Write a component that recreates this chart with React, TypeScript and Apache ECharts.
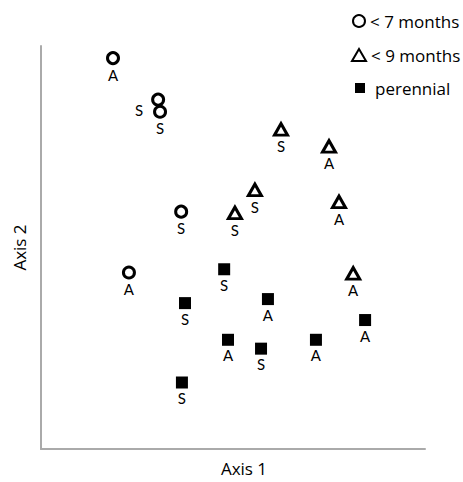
import React, { useEffect, useRef } from "react";
import * as echarts from "echarts";

// Arbitrary ordination units (0–100 on both axes)
const circleX = [18.75, 30.5, 31.0, 36.5, 22.9];
const circleY = [97.0, 86.7, 83.7, 58.9, 43.8];
const circleLabels = ["A", "S", "S", "S", "A"];

const triangleX = [62.5, 75.0, 55.7, 50.5, 77.6, 81.3];
const triangleY = [79.3, 75.1, 64.3, 58.6, 61.3, 43.6];
const triangleLabels = ["S", "A", "S", "S", "A", "A"];

const squareX = [47.7, 37.5, 59.1, 48.7, 57.3, 71.6, 84.4, 36.7];
const squareY = [44.6, 36.2, 37.2, 27.1, 24.9, 27.1, 32.0, 16.5];
const squareLabels = ["S", "S", "A", "A", "S", "A", "A", "S"];

const seriesNames = ["< 7 months", "< 9 months", "perennial"];
const axisNames = ["Axis 1", "Axis 2"];

const LABEL_FONT = "Lato, 'Open Sans', sans-serif";
const TEXT_FONT = "'Open Sans', sans-serif";

function buildData(xs: number[], ys: number[], labels: string[], leftIdx: number[] = []) {
  return xs.map((x, i) => {
    const item: any = { value: [x, ys[i], labels[i]] };
    if (leftIdx.includes(i)) {
      item.label = { position: "left", offset: [0, 10], distance: 8 };
    }
    return item;
  });
}

const pointLabel = {
  show: true,
  position: "bottom",
  distance: 2,
  color: "#000",
  fontSize: 15,
  fontFamily: LABEL_FONT,
  formatter: (p: any) => p.value[2],
};

export default function App() {
  const ref = useRef<HTMLDivElement>(null);
  useEffect(() => {
    document.body.style.margin = "0";
    if (!ref.current) return;
    const chart = echarts.init(ref.current, null, { renderer: "svg" });
    const legendText = { fontSize: 17, fontFamily: TEXT_FONT, color: "#000", lineHeight: 18 };
    chart.setOption({
      animation: false,
      backgroundColor: "#fff",
      grid: { left: 41, right: 38, top: 46, bottom: 30 },
      legend: [
        {
          data: [seriesNames[0]],
          left: 352,
          top: 12,
          padding: 0,
          itemWidth: 12,
          itemHeight: 12,
          textStyle: legendText,
        },
        {
          data: [seriesNames[1]],
          left: 351,
          top: 46,
          padding: 0,
          itemWidth: 14,
          itemHeight: 12,
          textStyle: legendText,
        },
        {
          data: [seriesNames[2]],
          left: 355,
          top: 79,
          padding: 0,
          itemWidth: 10,
          itemHeight: 10,
          textStyle: { ...legendText, padding: [0, 0, 0, 5] },
        },
      ],
      xAxis: {
        type: "value",
        min: 0,
        max: 100,
        name: axisNames[0],
        nameLocation: "middle",
        nameGap: 11,
        nameTextStyle: { fontSize: 17, fontFamily: TEXT_FONT, color: "#000", padding: [0, 0, 0, 22] },
        axisLine: { show: true, lineStyle: { color: "#aaa", width: 2 } },
        axisTick: { show: false },
        axisLabel: { show: false },
        splitLine: { show: false },
      },
      yAxis: {
        type: "value",
        min: 0,
        max: 100,
        name: axisNames[1],
        nameLocation: "middle",
        nameGap: 13,
        nameTextStyle: { fontSize: 17, fontFamily: TEXT_FONT, color: "#000" },
        axisLine: { show: true, lineStyle: { color: "#aaa", width: 2 } },
        axisTick: { show: false },
        axisLabel: { show: false },
        splitLine: { show: false },
      },
      series: [
        {
          name: seriesNames[0],
          type: "scatter",
          symbol: "circle",
          symbolSize: 11,
          itemStyle: { color: "#fff", borderColor: "#000", borderWidth: 3, opacity: 1 },
          label: pointLabel,
          data: buildData(circleX, circleY, circleLabels, [1]),
        },
        {
          name: seriesNames[1],
          type: "scatter",
          symbol: "triangle",
          symbolSize: [13, 11.5],
          itemStyle: { color: "#fff", borderColor: "#000", borderWidth: 3, opacity: 1 },
          label: pointLabel,
          data: buildData(triangleX, triangleY, triangleLabels),
        },
        {
          name: seriesNames[2],
          type: "scatter",
          symbol: "rect",
          symbolSize: 12,
          itemStyle: { color: "#000", opacity: 1 },
          label: pointLabel,
          data: buildData(squareX, squareY, squareLabels),
        },
      ],
    });
    return () => chart.dispose();
  }, []);
  return <div ref={ref} style={{ width: 463, height: 482 }} />;
}
